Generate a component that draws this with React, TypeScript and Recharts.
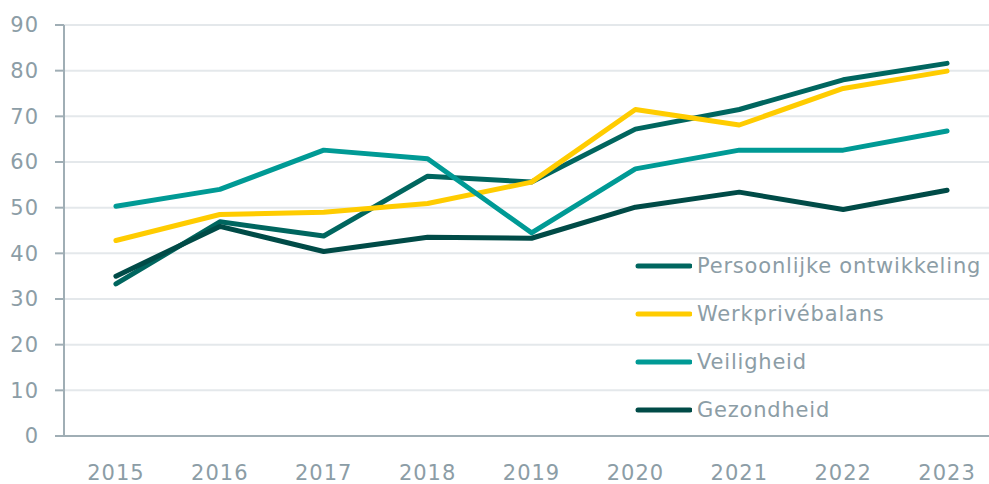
import { LineChart, Line, XAxis, YAxis, CartesianGrid } from 'recharts'

const years = ['2015', '2016', '2017', '2018', '2019', '2020', '2021', '2022', '2023']
const persoonlijk = [33.3, 46.9, 43.8, 56.9, 55.6, 67.2, 71.5, 78.0, 81.6]
const werkprive = [42.8, 48.5, 49.0, 50.9, 55.6, 71.5, 68.1, 76.1, 79.9]
const veiligheid = [50.3, 54.0, 62.6, 60.7, 44.5, 58.5, 62.6, 62.6, 66.8]
const gezondheid = [35.0, 45.9, 40.4, 43.5, 43.3, 50.1, 53.4, 49.6, 53.8]
const yTicks = [0, 10, 20, 30, 40, 50, 60, 70, 80, 90]

const series = [
    { key: 'persoonlijk', name: 'Persoonlijke ontwikkeling', color: '#00665F' },
    { key: 'werkprive', name: 'Werkprivébalans', color: '#FFCC00' },
    { key: 'veiligheid', name: 'Veiligheid', color: '#009A95' },
    { key: 'gezondheid', name: 'Gezondheid', color: '#004B47' }
]

const data = years.map((year, i) => ({
    idx: i,
    year,
    persoonlijk: persoonlijk[i],
    werkprive: werkprive[i],
    veiligheid: veiligheid[i],
    gezondheid: gezondheid[i]
}))

// tick marks sit between the categories, labels in the middle
const boundaryTicks = [...years.map((_, i) => i - 0.5), years.length - 0.5]
const labelTicks = years.map((_, i) => i)

const textColor = '#8C9DA6'
const axisColor = '#A0AEB5'
const font = '"DejaVu Sans", sans-serif'
const tickStyle = { fill: textColor, fontSize: 21, fontFamily: font, letterSpacing: 1 }

function LegendBox() {
    return (
        <div style={{ position: 'absolute', left: 634, top: 242 }}>
            {series.map(s => (
                <div key={s.key} style={{ display: 'flex', alignItems: 'center', height: 48 }}>
                    <svg width={58} height={10}>
                        <line x1={4} y1={5} x2={56} y2={5} stroke={s.color} strokeWidth={5} strokeLinecap="round" />
                    </svg>
                    <span
                        style={{
                            color: textColor,
                            fontSize: 21,
                            fontFamily: font,
                            letterSpacing: 0.8,
                            marginLeft: 5,
                            whiteSpace: 'nowrap'
                        }}
                    >
                        {s.name}
                    </span>
                </div>
            ))}
        </div>
    )
}

export default function App() {
    return (
        <div style={{ position: 'absolute', left: 0, top: 0, width: 989, height: 484, overflow: 'hidden', background: '#fff' }}>
            <LineChart width={1000} height={484} data={data} margin={{ top: 25, right: 1, left: 0, bottom: 0 }}>
                <CartesianGrid vertical={false} stroke="#E4E8EB" strokeWidth={2} />
                <XAxis
                    dataKey="idx"
                    type="number"
                    domain={[-0.5, years.length - 0.5]}
                    ticks={boundaryTicks}
                    interval={0}
                    tick={false}
                    tickSize={9}
                    height={10}
                    stroke={axisColor}
                    strokeWidth={2}
                />
                <XAxis
                    xAxisId="labels"
                    dataKey="idx"
                    type="number"
                    domain={[-0.5, years.length - 0.5]}
                    ticks={labelTicks}
                    interval={0}
                    tickFormatter={(v: number) => years[v]}
                    axisLine={false}
                    tickLine={false}
                    tickSize={0}
                    tickMargin={19}
                    height={38}
                    tick={tickStyle}
                />
                <YAxis
                    domain={[0, 90]}
                    ticks={yTicks}
                    interval={0}
                    width={64}
                    tickSize={9}
                    tickMargin={16}
                    stroke={axisColor}
                    strokeWidth={2}
                    tick={tickStyle}
                />
                {series.map(s => (
                    <Line
                        key={s.key}
                        dataKey={s.key}
                        name={s.name}
                        stroke={s.color}
                        strokeWidth={5}
                        strokeLinecap="round"
                        strokeLinejoin="round"
                        dot={false}
                        isAnimationActive={false}
                    />
                ))}
            </LineChart>
            <LegendBox />
        </div>
    )
}
